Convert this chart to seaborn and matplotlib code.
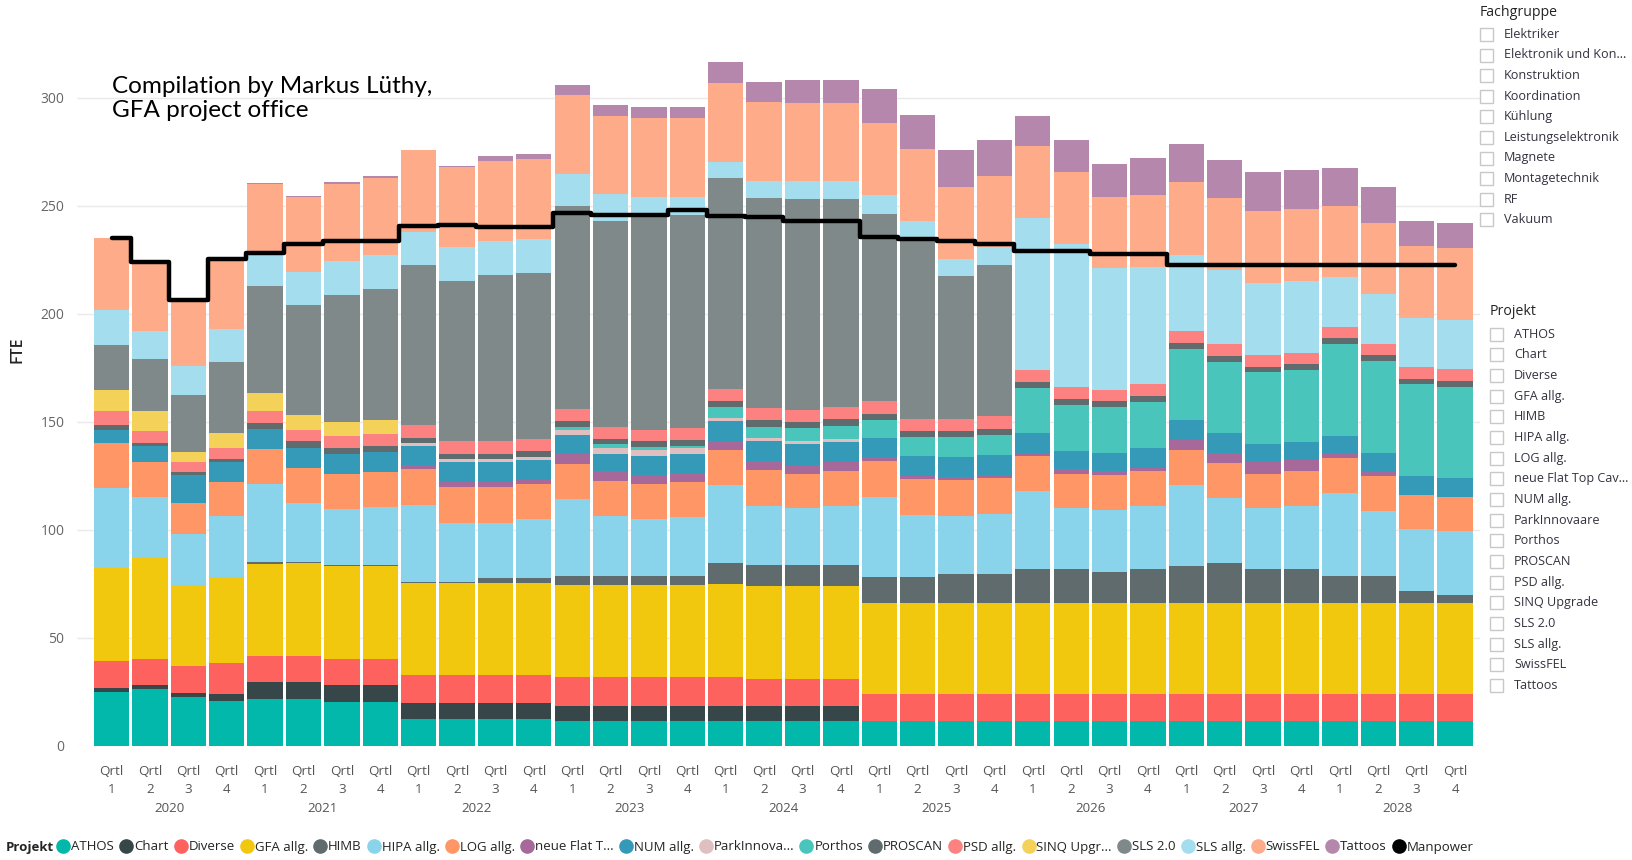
import numpy as np
import pandas as pd
import seaborn as sns
import matplotlib.pyplot as plt
from matplotlib.lines import Line2D
from matplotlib.patches import Rectangle
from matplotlib.transforms import blended_transform_factory

# Data (FTE per quarter, 2020 Q1 .. 2028 Q4)
years = ['2020', '2021', '2022', '2023', '2024', '2025', '2026', '2027', '2028']
quarters = ['1', '2', '3', '4']

projects = ['ATHOS', 'Chart', 'Diverse', 'GFA allg.', 'HIMB', 'HIPA allg.', 'LOG allg.',
            'neue Flat T...', 'NUM allg.', 'ParkInnova...', 'Porthos', 'PROSCAN', 'PSD allg.',
            'SINQ Upgr...', 'SLS 2.0', 'SLS allg.', 'SwissFEL', 'Tattoos']

athos = [24.8, 26.2, 22.7, 20.7, 21.7, 21.7, 20.2, 20.2, 12.4, 12.4, 12.4, 12.4] + [11.4] * 24
chart = [2.1, 2.1, 1.7, 3.1, 7.8, 7.8, 8.1, 8.1, 7.2, 7.2, 7.2, 7.2] + [7.2] * 8 + [0] * 16
diverse = [12.4, 12.0, 12.6, 14.4, 12.2, 12.2, 12.0, 12.0, 13.0, 13.0, 13.0, 13.0,
           13.0, 13.0, 13.0, 13.0, 13.4, 12.4, 12.4, 12.4] + [12.4] * 16
gfa = [43.3, 46.5, 37.4, 39.7, 42.6, 43.0, 42.8, 42.8] + [42.8] * 12 + [42.3] * 16
himb = [0, 0, 0, 0, 1.0, 0.6, 0.6, 0.6, 0.6, 0.6, 2.1, 2.1, 4.1, 4.1, 4.1, 4.1,
        9.9, 9.9, 9.9, 9.9, 12.0, 12.0, 13.4, 13.4, 15.5, 15.5, 14.5, 15.9,
        17.0, 18.6, 15.5, 15.5, 12.4, 12.4, 5.6, 3.7]
hipa = [36.8, 28.5, 23.7, 28.5, 36.0, 27.3, 25.8, 26.8, 35.6, 27.3, 25.8, 27.3,
        35.8, 27.9, 26.3, 27.3, 35.8, 27.5, 26.2, 27.3, 37.2, 28.9, 26.9, 27.9,
        36.2, 28.3, 28.5, 29.0, 37.8, 30.0, 28.3, 29.4, 38.6, 30.4, 28.5, 29.4]
log = [20.7, 16.3, 14.1, 15.5, 16.1, 16.1, 16.1, 16.2, 16.5, 16.5, 16.5, 16.5,
       16.3, 16.1, 16.5, 16.5, 16.3, 16.3, 16.1, 16.1, 16.5, 16.6, 16.5, 16.6,
       16.5, 16.1, 16.3, 16.1, 16.1, 16.1, 16.1, 16.1, 16.2, 16.1, 16.1, 16.1]
flat_top = [0] * 8 + [1.7, 2.1, 2.1, 1.6, 4.3, 4.6, 4.1, 4.1, 4.3, 4.3, 4.2, 4.5,
                      1.9, 1.4, 1.5, 1.4, 1.0, 2.1, 1.7, 1.6, 4.5, 4.9, 5.2, 5.1,
                      1.6, 1.7, 0, 0]
num = [6.2, 7.4, 13.2, 9.3, 9.1, 9.3, 9.3, 9.3, 9.2, 9.3, 9.3, 9.3,
       9.1, 8.2, 8.9, 8.9, 9.1, 9.3, 9.3, 8.9, 8.9, 9.3, 9.3, 9.3,
       9.3, 8.3, 8.6, 9.1, 9.3, 8.9, 8.3, 8.3, 8.7, 9.0, 8.7, 8.7]
park = [0] * 8 + [1.1, 1.4, 1.4, 1.5, 2.3, 2.5, 2.5, 2.5, 1.7, 1.5, 1.6, 1.4] + [0] * 16
porthos = [0] * 12 + [1.4, 1.7, 1.4, 1.2, 5.1, 5.1, 6.2, 6.2, 8.2, 8.7, 9.3, 9.3,
                      21.1, 21.2, 21.3, 21.3, 33.1, 33.1, 33.6, 33.7, 42.4, 42.4, 42.4, 42.3]
proscan = [2.0, 1.3, 1.3, 1.4, 2.9, 3.1, 2.9, 2.8, 2.5, 2.7, 2.7, 2.7,
           2.5, 2.4, 2.7, 2.5, 2.7, 2.9, 2.5, 3.1, 2.7, 2.7, 2.7, 2.7,
           2.7, 2.9, 2.7, 2.7, 2.7, 2.7, 2.5, 2.5, 2.6, 2.7, 2.4, 2.5]
psd = [6.6, 5.4, 4.5, 5.4, 5.6, 5.2, 5.6, 5.6, 5.7, 5.6, 5.6, 5.7,
       5.8, 5.8, 5.4, 5.8, 5.6, 5.8, 5.8, 5.6, 6.0, 5.7, 5.7, 5.8,
       5.8, 5.4, 5.2, 5.6, 5.5, 5.6, 5.2, 5.1, 5.2, 5.2, 5.4, 5.8]
sinq = [9.9, 9.3, 5.0, 7.0, 8.2, 7.0, 6.4, 6.4] + [0] * 28
sls20 = [20.7, 24.2, 26.0, 32.7, 49.6, 50.8, 58.9, 60.6, 74.3, 74.4, 77.1, 76.9,
         94.0, 95.1, 98.5, 98.6, 97.5, 97.1, 97.5, 96.3, 86.8, 82.1, 66.0, 70.0] + [0] * 12
sls_allg = [16.5, 13.0, 13.8, 15.1, 15.1, 15.3, 15.9, 15.9, 15.5, 15.7, 15.5, 15.5,
            14.9, 12.8, 9.3, 8.2, 7.4, 7.9, 8.3, 8.3, 8.9, 9.3, 8.2, 8.3,
            70.0, 66.5, 56.2, 54.3, 35.2, 34.5, 33.7, 33.5, 23.1, 23.1, 22.7, 22.7]
swissfel = [32.9, 31.0, 30.2, 32.8, 32.0, 34.7, 35.7, 35.7, 37.6, 37.0, 37.2, 37.2,
            36.3, 36.1, 36.6, 36.6, 36.6, 36.5, 36.1, 36.1, 33.0, 33.4, 33.3, 33.0,
            33.3, 33.1, 33.0, 33.1, 33.7, 33.0, 33.0, 33.3, 33.1, 33.0, 33.5, 33.1]
tattoos = [0, 0, 0, 0, 0.6, 0.4, 0.6, 0.8, 0, 0.4, 2.4, 2.5,
           4.6, 4.8, 5.2, 5.2, 9.7, 9.5, 10.8, 10.8, 15.9, 15.7, 16.9, 16.8,
           14.2, 15.1, 15.5, 17.5, 17.5, 17.8, 18.0, 17.9, 17.6, 16.6, 11.8, 11.7]
manpower = [235.1, 223.8, 206.6, 225.6, 228.3, 232.4, 233.5, 233.5,
            240.7, 241.1, 240.3, 240.3, 246.9, 245.9, 245.9, 248.3,
            245.2, 244.8, 243.2, 243.2, 235.5, 234.5, 233.5, 232.4,
            229.3, 229.3, 227.9, 227.9] + [222.5] * 8

series = [athos, chart, diverse, gfa, himb, hipa, log, flat_top, num, park, porthos,
          proscan, psd, sinq, sls20, sls_allg, swissfel, tattoos]

# Slicer panels on the right
fachgruppen = ['Elektriker', 'Elektronik und Kon...', 'Konstruktion', 'Koordination', 'Kühlung',
               'Leistungselektronik', 'Magnete', 'Montagetechnik', 'RF', 'Vakuum']
projekt_items = ['ATHOS', 'Chart', 'Diverse', 'GFA allg.', 'HIMB', 'HIPA allg.', 'LOG allg.',
                 'neue Flat Top Cav...', 'NUM allg.', 'ParkInnovaare', 'Porthos', 'PROSCAN',
                 'PSD allg.', 'SINQ Upgrade', 'SLS 2.0', 'SLS allg.', 'SwissFEL', 'Tattoos']

colors = ['#01B8AA', '#374649', '#FD625E', '#F2C80F', '#5F6B6D', '#8AD4EB', '#FE9666',
          '#A66999', '#3599B8', '#DFBFBF', '#4AC5BB', '#5F6B6D', '#FB8281', '#F4D25A',
          '#7F898A', '#A4DDEE', '#FDAB89', '#B687AC']

# Figure setup
W, H = 1633, 860
sns.set_theme(style='white')
plt.rcParams['font.family'] = ['Open Sans', 'DejaVu Sans']


def fx(px):
    return px / W


def fy(py):
    return 1 - py / H


fig = plt.figure(figsize=(W / 100, H / 100), dpi=100)
ax = fig.add_axes([fx(77), fy(745.7), fx(1480) - fx(77), fy(43.9) - fy(745.7)])

labels = [f'Qrtl\n{q}' for y in years for q in quarters]
x = np.arange(len(labels))
bottom = np.zeros(len(labels))
for vals, c in zip(series, colors):
    ax.bar(x, vals, bottom=bottom, width=0.92, color=c, linewidth=0)
    bottom += np.array(vals)

mp = pd.DataFrame({'x': x, 'Manpower': manpower})
sns.lineplot(data=mp, x='x', y='Manpower', ax=ax, color='black', lw=3.2,
             drawstyle='steps-mid', estimator=None, solid_capstyle='round',
             legend=False)

ax.set_xlim(-0.9, 35.65)
ax.set_ylim(0, 325)
ax.set_yticks(range(0, 301, 50))
ax.set_xticks(x)
ax.set_xticklabels(labels, linespacing=1.5)
ax.tick_params(axis='y', length=0, pad=9, labelsize=10, labelcolor='#666666')
ax.tick_params(axis='x', length=0, pad=14, labelsize=9.6, labelcolor='#555555')
ax.yaxis.grid(True, color='#eaeaea', lw=1)
ax.set_axisbelow(True)
for s in ax.spines.values():
    s.set_visible(False)
ax.set_xlabel('')
ax.set_ylabel('')
if ax.get_legend() is not None:
    ax.get_legend().remove()
fig.text(fx(18), fy(350), 'FTE', rotation=90, ha='center', va='center',
         fontsize=11.5, fontweight='semibold', color='#252423')

# Year labels under each group of quarters
tr = blended_transform_factory(ax.transData, fig.transFigure)
for i, yr in enumerate(years):
    ax.text(4 * i + 1.5, fy(808), yr, transform=tr, ha='center', va='center',
            fontsize=9.6, color='#555555')

# Annotation
fig.text(fx(112), fy(98.5), 'Compilation by Markus Lüthy,\nGFA project office',
         family=['Lato', 'DejaVu Sans'], fontsize=17.5, ha='left', va='center',
         linespacing=1.2, color='black')

# Bottom legend
handles = [Line2D([], [], marker='o', ls='', color=c, markersize=9.5) for c in colors]
handles.append(Line2D([], [], marker='o', ls='', color='black', markersize=9.5))
fig.text(fx(6), fy(847), 'Projekt', fontsize=9.5, fontweight='bold', ha='left',
         va='center', color='#252423')
fig.legend(handles, projects + ['Manpower'], loc='center left',
           bbox_to_anchor=(fx(58), fy(847)), ncol=19, frameon=False, fontsize=9.5,
           handlelength=0.8, handletextpad=0.2, columnspacing=0.52,
           borderaxespad=0, borderpad=0, labelcolor='#252423')


# Slicers
def slicer(title, items, x0, ytitle, y0, step, text_dx):
    fig.text(fx(x0), fy(ytitle), title, fontsize=10.2, ha='left', va='center', color='#252423')
    for i, name in enumerate(items):
        yc = y0 + i * step
        fig.add_artist(Rectangle((fx(x0), fy(yc + 6.5)), 13 / W, 13 / H,
                                 transform=fig.transFigure, fill=False,
                                 ec='#c8c8c8', lw=1))
        fig.text(fx(x0 + text_dx), fy(yc), name, fontsize=9.1, ha='left', va='center',
                 color='#333340')


slicer('Fachgruppe', fachgruppen, 1480, 12.5, 34.4, 20.6, 24)
slicer('Projekt', projekt_items, 1490, 311.4, 334.3, 20.65, 24)

fig.savefig('out.png', dpi=100)
